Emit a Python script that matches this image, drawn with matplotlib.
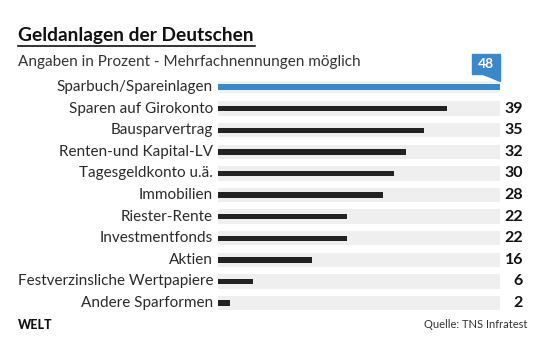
import matplotlib
matplotlib.use("Agg")
import matplotlib.pyplot as plt
from matplotlib.patches import Polygon, Rectangle

categories = ["Sparbuch/Spareinlagen", "Sparen auf Girokonto", "Bausparvertrag",
              "Renten-und Kapital-LV", "Tagesgeldkonto u.ä.", "Immobilien",
              "Riester-Rente", "Investmentfonds", "Aktien",
              "Festverzinsliche Wertpapiere", "Andere Sparformen"]
values = [48, 39, 35, 32, 30, 28, 22, 22, 16, 6, 2]
max_value = 48

title = "Geldanlagen der Deutschen"
subtitle = "Angaben in Prozent - Mehrfachnennungen möglich"
source = "Quelle: TNS Infratest"
brand = "WELT"

plt.rcParams['font.family'] = ['Lato', 'DejaVu Sans']

W, H = 540, 360
fig = plt.figure(figsize=(W/100, H/100), dpi=100)
fig.patch.set_facecolor("white")

# axes placement in pixels
x0, x1 = 218, 500
ytop, ybot = 78, 312
ax = fig.add_axes([x0/W, 1 - ybot/H, (x1-x0)/W, (ybot-ytop)/H])
row0, step = 87, 21.6
ax.set_xlim(0, max_value)
ax.set_ylim(10 + (ybot-303)/step, (ytop-row0)/step)
ax.axis("off")

blue = "#3a87c9"
dark = "#222222"
n = len(categories)
ys = list(range(n))
ax.barh(ys[1:], [max_value]*(n-1), height=0.66, color="#efefef", zorder=1)
ax.barh([0], [max_value], height=0.55, color="#eaf3fa", zorder=1)
colors = [blue] + [dark]*(n-1)
ax.barh(ys, values, height=0.25, color=colors, zorder=2)

for i, (c, v) in enumerate(zip(categories, values)):
    ax.annotate(c, xy=(0, i), xytext=(-5, 0), textcoords="offset pixels",
                ha="right", va="center", fontsize=11, color="#2a2a2a")
    if i > 0:
        ax.annotate(str(v), xy=(max_value, i), xytext=(23, 0), textcoords="offset pixels",
                    ha="right", va="center", fontsize=11.5, fontweight="bold", color="#111111")

# highlight label box for top value
px = max_value / (x1 - x0)
def yd(p):
    return (p - row0) / step
bx0 = max_value - 28*px
box = Rectangle((bx0, yd(54)), 28*px, yd(74)-yd(54), color=blue, clip_on=False, zorder=3)
ax.add_patch(box)
tri = Polygon([(max_value - 17*px, yd(73.5)), (max_value, yd(73.5)), (max_value, yd(81))],
              closed=True, color=blue, clip_on=False, zorder=3)
ax.add_patch(tri)
ax.text(max_value - 14*px, yd(64), str(values[0]), ha="center", va="center",
        fontsize=10, fontweight="bold", color="white", zorder=4)

# titles
fig.text(18/W, 1 - 36/H, title, ha="left", va="center", fontsize=13.8,
         fontweight="bold", color="#111111")
fig.add_artist(plt.Line2D([18/W, 255/W], [1 - 46/H, 1 - 46/H], color="#111111", lw=1.2))
fig.text(18/W, 1 - 62/H, subtitle, ha="left", va="center", fontsize=11, color="#333333")

fig.text(18/W, 1 - 325/H, brand, ha="left", va="center", fontsize=9,
         fontweight="black", color="#111111")
fig.text(527/W, 1 - 325/H, source, ha="right", va="center", fontsize=8, color="#333333")

fig.savefig("out.png", dpi=100)
